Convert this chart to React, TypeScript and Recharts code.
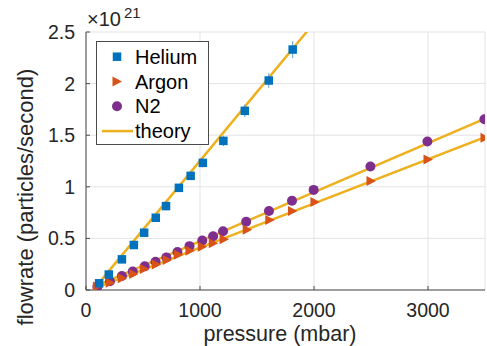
import { ComposedChart, Scatter, Line, XAxis, YAxis, CartesianGrid, ErrorBar } from 'recharts'

// measured flow (x1e21 particles/s) against inlet pressure (mbar)
const heliumPressure = [115, 200, 315, 420, 510, 612, 702, 815, 918, 1025, 1205, 1393, 1603, 1813]
const heliumFlow = [0.065, 0.15, 0.297, 0.436, 0.555, 0.7, 0.813, 0.99, 1.106, 1.232, 1.445, 1.736, 2.03, 2.33]
const heliumErr = [0.002, 0.005, 0.01, 0.015, 0.019, 0.025, 0.028, 0.035, 0.039, 0.043, 0.051, 0.061, 0.071, 0.082]

const argonPressure = [100, 212, 318, 418, 512, 617, 712, 810, 912, 1020, 1116, 1211, 1414, 1612, 1811, 2008, 2500, 3000, 3500]
const argonFlow = [0.035, 0.071, 0.113, 0.155, 0.203, 0.248, 0.29, 0.342, 0.381, 0.419, 0.452, 0.491, 0.585, 0.678, 0.766, 0.853, 1.055, 1.265, 1.475]

const n2Pressure = [100, 210, 315, 410, 515, 610, 705, 802, 908, 1020, 1115, 1202, 1405, 1605, 1807, 1997, 2495, 2995, 3495]
const n2Flow = [0.032, 0.085, 0.136, 0.18, 0.229, 0.274, 0.316, 0.368, 0.425, 0.479, 0.521, 0.57, 0.661, 0.765, 0.865, 0.97, 1.197, 1.439, 1.655]

// theory curves, straight lines between end points
const theoryPressure = [100, 3500]
const heliumTheory = [0.05, 4.59]
const argonTheory = [0.025, 1.48]
const n2Theory = [0.045, 1.66]

const xTicks = [0, 1000, 2000, 3000]
const yTicks = [0, 0.5, 1, 1.5, 2, 2.5]

const COLORS = { helium: '#0072BD', argon: '#D95319', n2: '#7E2F8E', theory: '#EDB120' }
const AXIS = '#262626'
const FRAME = '#4a4a4a'
const FONT = '"Liberation Sans", Arial, Helvetica, sans-serif'

const zip = (p: number[], v: number[]) => p.map((x, i) => ({ p: x, v: v[i] }))
const helium = heliumPressure.map((p, i) => ({ p, v: heliumFlow[i], err: heliumErr[i] }))
const argon = zip(argonPressure, argonFlow)
const n2 = zip(n2Pressure, n2Flow)

const Square = ({ cx, cy }: any) => <rect x={cx - 4.25} y={cy - 4.25} width={8.5} height={8.5} fill={COLORS.helium} />
const Tri = ({ cx, cy }: any) => (
  <polygon points={`${cx - 4.5},${cy - 5} ${cx + 5},${cy} ${cx - 4.5},${cy + 5}`} fill={COLORS.argon} />
)
const Dot = ({ cx, cy }: any) => <circle cx={cx} cy={cy} r={5} fill={COLORS.n2} />

const BottomTick = ({ x, y, payload }: any) => (
  <g>
    <line x1={x} x2={x} y1={y} y2={y - 4} stroke={FRAME} />
    <text x={x} y={y + 27} textAnchor="middle" fontSize={19.5} fill={AXIS} fontFamily={FONT}>
      {payload.value}
    </text>
  </g>
)
const TopTick = ({ x, y }: any) => <line x1={x} x2={x} y1={y} y2={y + 4} stroke={FRAME} />
const LeftTick = ({ x, y, payload }: any) => (
  <g>
    <line x1={x} x2={x + 4} y1={y} y2={y} stroke={FRAME} />
    <text x={x - 11} y={y} dy="0.36em" textAnchor="end" fontSize={19.5} fill={AXIS} fontFamily={FONT}>
      {payload.value}
    </text>
  </g>
)
const RightTick = ({ x, y }: any) => <line x1={x} x2={x - 4} y1={y} y2={y} stroke={FRAME} />

const legendRows = [
  { name: 'Helium', icon: (cx: number, cy: number) => <Square cx={cx} cy={cy} /> },
  { name: 'Argon', icon: (cx: number, cy: number) => <Tri cx={cx} cy={cy} /> },
  { name: 'N2', icon: (cx: number, cy: number) => <Dot cx={cx} cy={cy} /> },
  {
    name: 'theory',
    icon: (cx: number, cy: number) => (
      <line x1={cx - 15} x2={cx + 16} y1={cy} y2={cy} stroke={COLORS.theory} strokeWidth={2.5} />
    ),
  },
]

export default function App() {
  return (
    <div style={{ position: 'absolute', left: 0, top: 0, width: 487, height: 346, fontFamily: FONT }}>
      <ComposedChart width={487} height={346} margin={{ top: 32, right: 2, bottom: 0, left: 0 }}>
        <CartesianGrid stroke="#e3e3e3" strokeWidth={1} />
        <XAxis
          type="number"
          dataKey="p"
          domain={[0, 3500]}
          ticks={xTicks}
          allowDataOverflow
          height={56}
          tickSize={0}
          tickMargin={0}
          tickLine={false}
          axisLine={{ stroke: FRAME }}
          tick={<BottomTick />}
        />
        <XAxis
          xAxisId="top"
          orientation="top"
          type="number"
          domain={[0, 3500]}
          ticks={xTicks}
          allowDataOverflow
          height={0}
          tickSize={0}
          tickLine={false}
          axisLine={{ stroke: FRAME }}
          tick={<TopTick />}
        />
        <YAxis
          type="number"
          domain={[0, 2.5]}
          ticks={yTicks}
          allowDataOverflow
          width={86}
          tickSize={0}
          tickMargin={0}
          tickLine={false}
          axisLine={{ stroke: FRAME }}
          tick={<LeftTick />}
        />
        <YAxis
          yAxisId="right"
          orientation="right"
          type="number"
          domain={[0, 2.5]}
          ticks={yTicks}
          allowDataOverflow
          width={0}
          tickSize={0}
          tickLine={false}
          axisLine={{ stroke: FRAME }}
          tick={<RightTick />}
        />
        <Line data={zip(theoryPressure, heliumTheory)} dataKey="v" stroke={COLORS.theory} strokeWidth={2.5} dot={false} isAnimationActive={false} />
        <Line data={zip(theoryPressure, n2Theory)} dataKey="v" stroke={COLORS.theory} strokeWidth={2.5} dot={false} isAnimationActive={false} />
        <Line data={zip(theoryPressure, argonTheory)} dataKey="v" stroke={COLORS.theory} strokeWidth={2.5} dot={false} isAnimationActive={false} />
        <Scatter data={n2} dataKey="v" shape={<Dot />} isAnimationActive={false} />
        <Scatter data={argon} dataKey="v" shape={<Tri />} isAnimationActive={false} />
        <Scatter data={helium} dataKey="v" shape={<Square />} isAnimationActive={false}>
          <ErrorBar dataKey="err" direction="y" width={0} stroke="#5a9fd6" strokeWidth={1} />
        </Scatter>
      </ComposedChart>

      <svg width={487} height={346} style={{ position: 'absolute', left: 0, top: 0, pointerEvents: 'none' }}>
        <text x={87} y={26} fontSize={20} fill={AXIS} fontFamily={FONT}>
          ×10
          <tspan dx={3} dy={-8} fontSize={15}>21</tspan>
        </text>
        <text x={280} y={341} textAnchor="middle" fontSize={21.5} fill={AXIS} fontFamily={FONT}>
          pressure (mbar)
        </text>
        <text transform="translate(33, 197) rotate(-90)" textAnchor="middle" fontSize={22} fill={AXIS} fontFamily={FONT}>
          flowrate (particles/second)
        </text>
        <rect x={96.5} y={41.5} width={112} height={103} fill="#fff" stroke={FRAME} />
        {legendRows.map((row, i) => (
          <g key={row.name}>
            {row.icon(117, 56.7 + i * 24.8)}
            <text x={135} y={56.7 + i * 24.8 + 7} fontSize={20} fill="#000" fontFamily={FONT}>
              {row.name}
            </text>
          </g>
        ))}
      </svg>
    </div>
  )
}
